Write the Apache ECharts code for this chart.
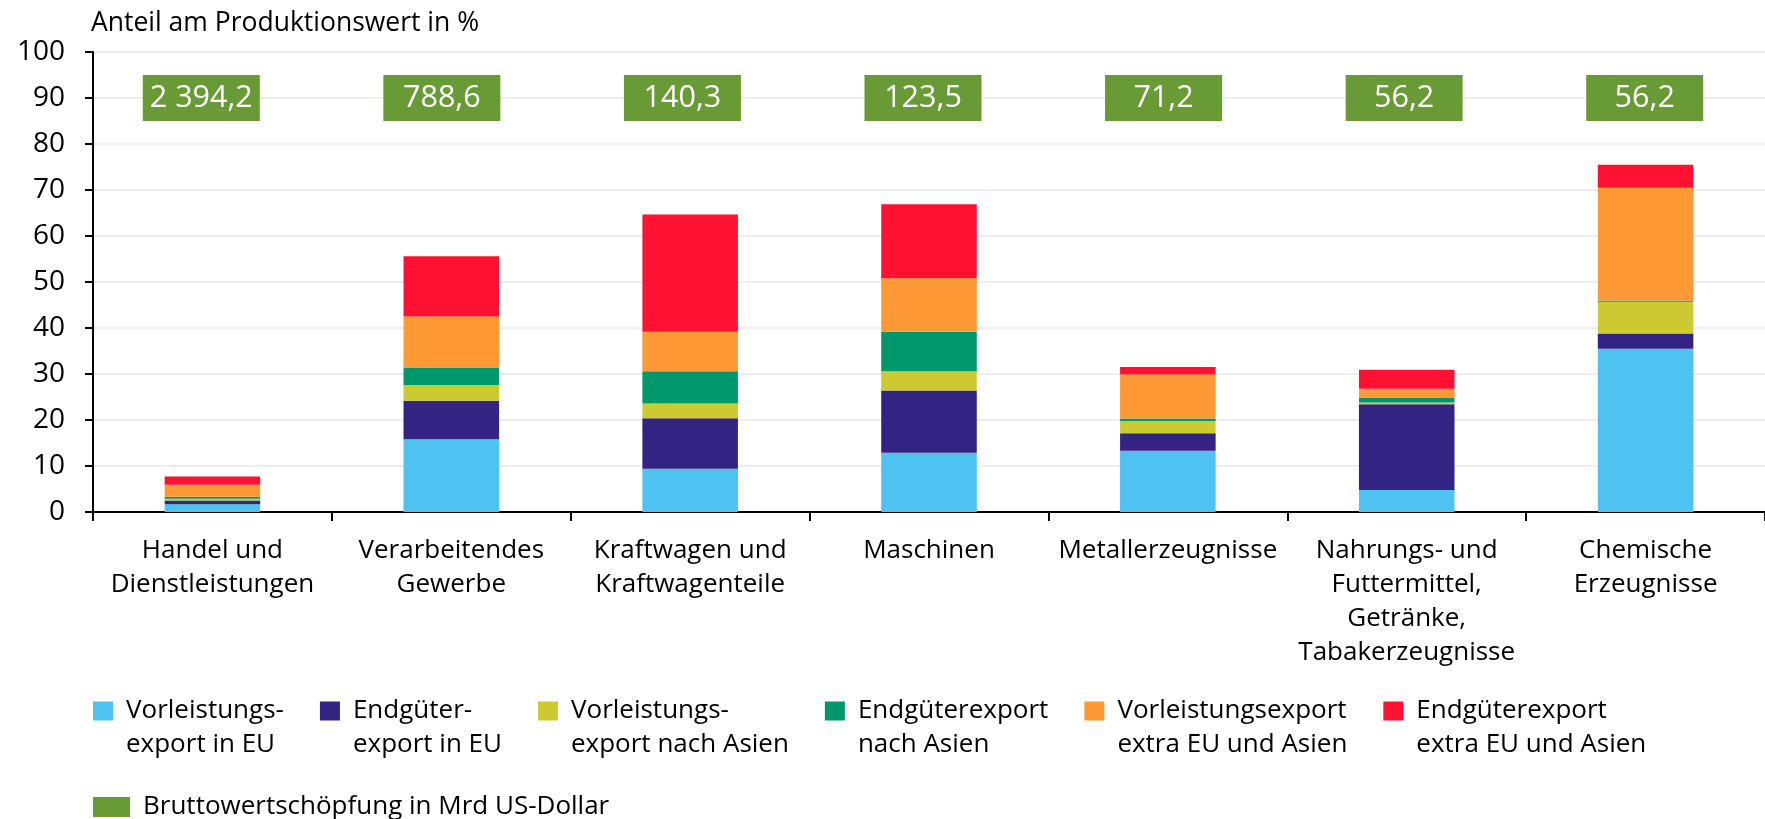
<!DOCTYPE html>
<html>
<head>
<meta charset="utf-8">
<script src="https://cdn.jsdelivr.net/npm/echarts@6/dist/echarts.min.js"></script>
<style>
  html, body { margin: 0; padding: 0; background: #fff; }
  #chart { width: 1765px; height: 819px; }
</style>
</head>
<body>
<div id="chart"></div>
<script>
// ---- data ----
const categories = [
  'Handel und\nDienstleistungen',
  'Verarbeitendes\nGewerbe',
  'Kraftwagen und\nKraftwagenteile',
  'Maschinen',
  'Metallerzeugnisse',
  'Nahrungs- und\nFuttermittel,\nGetränke,\nTabakerzeugnisse',
  'Chemische\nErzeugnisse'
];
const seriesNames = [
  'Vorleistungs-\nexport in EU',
  'Endgüter-\nexport in EU',
  'Vorleistungs-\nexport nach Asien',
  'Endgüterexport\nnach Asien',
  'Vorleistungsexport\nextra EU und Asien',
  'Endgüterexport\nextra EU und Asien'
];
const vorleistungEU    = [1.7, 15.8,  9.4, 12.9, 13.3,  4.8, 35.5];
const endgueterEU      = [0.8,  8.4, 11.0, 13.5,  3.8, 18.6,  3.3];
const vorleistungAsien = [0.4,  3.4,  3.2,  4.2,  2.7,  0.4,  6.9];
const endgueterAsien   = [0.4,  3.8,  7.0,  8.6,  0.5,  1.1,  0.3];
const vorleistungExtra = [2.6, 11.1,  8.6, 11.6,  9.6,  1.9, 24.5];
const endgueterExtra   = [1.8, 13.1, 25.5, 16.1,  1.6,  4.1,  5.0];
const bwsName = 'Bruttowertschöpfung in Mrd US-Dollar';
const bwsValues = [2394.2, 788.6, 140.3, 123.5, 71.2, 56.2, 56.2];
const yTicks = { min: 0, max: 100, interval: 10 };

// ---- styling ----
const colors = ['#4EC2F0', '#332483', '#CDC932', '#00976A', '#FE9936', '#FF1231'];
const green = '#689A35';
const FONT = '"Open Sans", sans-serif';
const BOX_Y = 90;

function fmtDe(v) {
  const parts = v.toFixed(1).split('.');
  const intPart = parts[0].replace(/\B(?=(\d{3})+(?!\d))/g, ' ');
  return intPart + ',' + parts[1];
}

const stacks = [vorleistungEU, endgueterEU, vorleistungAsien, endgueterAsien, vorleistungExtra, endgueterExtra];
const barSeries = stacks.map((arr, i) => ({
  name: seriesNames[i],
  type: 'bar',
  stack: 'total',
  barWidth: '40%',
  xAxisIndex: 0,
  yAxisIndex: 0,
  itemStyle: { color: colors[i] },
  data: arr
}));

const chart = echarts.init(document.getElementById('chart'), null, { renderer: 'canvas' });
chart.setOption({
  animation: false,
  backgroundColor: '#ffffff',
  textStyle: { fontFamily: FONT, color: '#000' },
  title: {
    text: 'Anteil am Produktionswert in %',
    left: 86,
    top: 5,
    textStyle: { fontFamily: FONT, fontSize: 26.5, fontWeight: 'normal', color: '#000' }
  },
  grid: [
    { left: 93, right: -11, top: 52, bottom: 307, containLabel: false },
    { left: 81, right: -16, top: 52, bottom: 307, containLabel: false }
  ],
  xAxis: [
    {
      type: 'category',
      gridIndex: 0,
      data: categories,
      axisLine: { show: true, lineStyle: { color: '#000', width: 2 } },
      axisTick: { show: true, length: 9, lineStyle: { color: '#000', width: 2 } },
      axisLabel: { fontFamily: FONT, fontSize: 26, lineHeight: 34, color: '#000', margin: 22, interval: 0 }
    },
    {
      type: 'category',
      gridIndex: 1,
      data: categories,
      show: false
    }
  ],
  yAxis: [
    {
      type: 'value',
      gridIndex: 0,
      min: yTicks.min, max: yTicks.max, interval: yTicks.interval,
      axisLine: { show: true, lineStyle: { color: '#000', width: 2 } },
      axisTick: { show: true, length: 8, lineStyle: { color: '#000', width: 2 } },
      axisLabel: { fontFamily: FONT, fontSize: 28, color: '#000', margin: 28 },
      splitLine: { show: true, lineStyle: { color: '#EDEDED', width: 2 } }
    },
    {
      type: 'value',
      gridIndex: 1,
      min: yTicks.min, max: yTicks.max,
      show: false
    }
  ],
  legend: [
    {
      data: seriesNames,
      left: 93,
      top: 660,
      width: 1700,
      padding: 0,
      orient: 'horizontal',
      itemWidth: 20,
      itemHeight: 19,
      itemGap: 36,
      icon: 'rect',
      formatter: name => '\n' + name,
      textStyle: { fontFamily: FONT, fontSize: 26, lineHeight: 34, color: '#000', padding: [0, 0, 0, 8] }
    },
    {
      data: [bwsName],
      left: 93,
      top: 790,
      padding: 0,
      itemWidth: 37,
      itemHeight: 20,
      icon: 'rect',
      textStyle: { fontFamily: FONT, fontSize: 26, lineHeight: 34, color: '#000', padding: [0, 0, 0, 8] }
    }
  ],
  series: barSeries.concat([
    {
      name: bwsName,
      type: 'scatter',
      xAxisIndex: 1,
      yAxisIndex: 1,
      symbol: 'rect',
      symbolSize: [117, 46],
      itemStyle: { color: green, opacity: 1 },
      z: 5,
      label: {
        show: true,
        position: 'inside',
        color: '#fff',
        fontFamily: FONT,
        fontSize: 30.5,
        formatter: p => fmtDe(p.value[2])
      },
      data: bwsValues.map((v, i) => [i, BOX_Y, v])
    }
  ])
});
</script>
</body>
</html>
